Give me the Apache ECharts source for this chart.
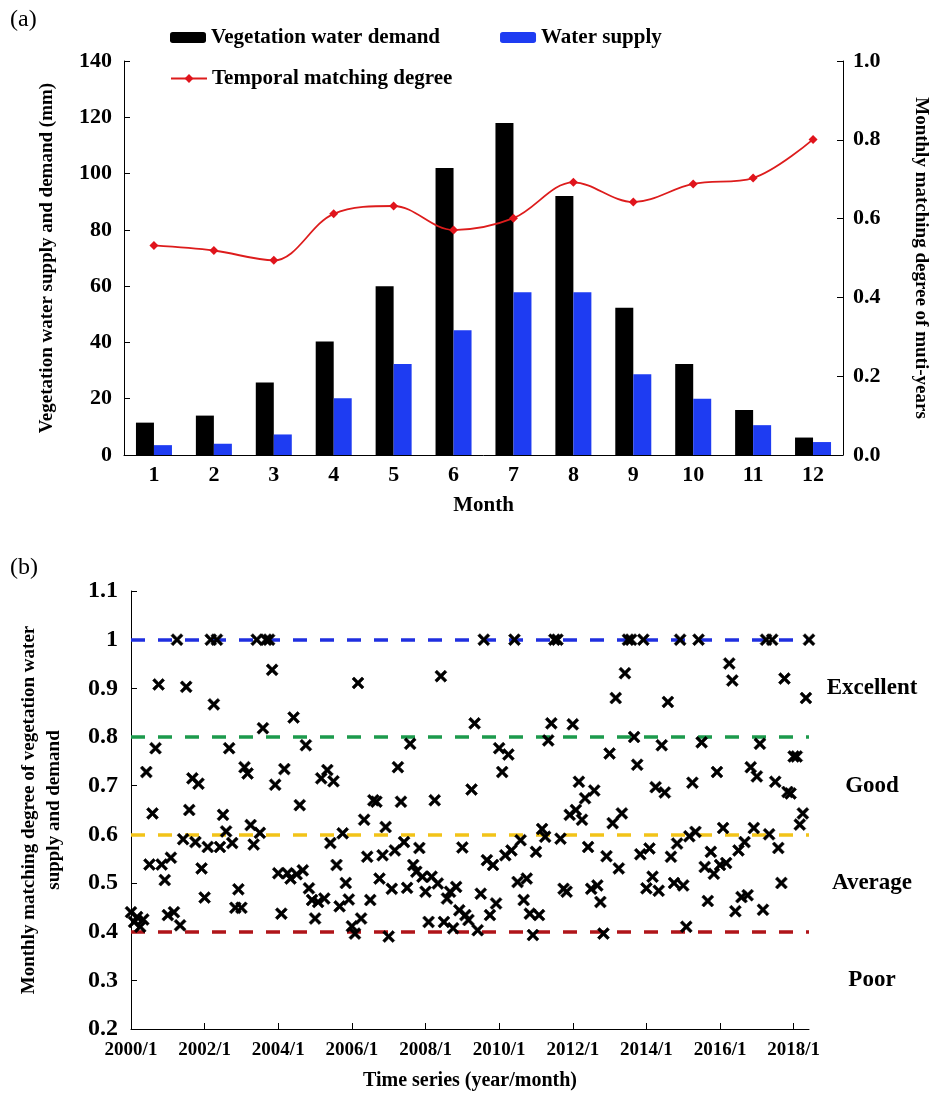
<!DOCTYPE html>
<html>
<head>
<meta charset="utf-8">
<script src="https://cdn.jsdelivr.net/npm/echarts@6/dist/echarts.min.js"></script>
<style>
  html, body { margin: 0; padding: 0; background: #ffffff; }
  #chart { width: 942px; height: 1105px; }
</style>
</head>
<body>
<div id="chart"></div>
<script>
// ---- Panel (a): monthly water demand / supply and matching degree ----
const monthCategories = ['1', '2', '3', '4', '5', '6', '7', '8', '9', '10', '11', '12'];
const waterDemand = [11.5, 14, 25.8, 40.3, 60, 102, 118, 92, 52.3, 32.3, 16, 6.2];
const waterSupply = [3.5, 4, 7.3, 20.2, 32.3, 44.3, 57.8, 57.8, 28.7, 20, 10.6, 4.6];
const matchingDegree = [0.532, 0.519, 0.494, 0.612, 0.632, 0.571, 0.601, 0.692, 0.642, 0.688, 0.703, 0.801];

// ---- Panel (b): monthly matching degree, 2000/1 onwards ----
const startYear = 2000;
const matchValues = [
  0.44, 0.42, 0.43, 0.41, 0.425, 0.728, 0.538, 0.643, 0.777, 0.908, 0.538, 0.506,
  0.434, 0.552, 0.44, 1.0, 0.413, 0.59, 0.903, 0.65, 0.715, 0.584, 0.704, 0.53,
  0.47, 0.574, 1.0, 0.867, 1.0, 0.574, 0.64, 0.606, 0.777, 0.582, 0.449, 0.487,
  0.449, 0.738, 0.725, 0.619, 0.579, 1.0, 0.603, 0.818, 1.0, 1.0, 0.938, 0.702,
  0.52, 0.437, 0.734, 0.52, 0.509, 0.84, 0.518, 0.66, 0.526, 0.783, 0.489, 0.465,
  0.427, 0.461, 0.715, 0.468, 0.732, 0.582, 0.709, 0.537, 0.452, 0.602, 0.5, 0.466,
  0.411, 0.396, 0.911, 0.427, 0.63, 0.554, 0.465, 0.67, 0.667, 0.509, 0.557, 0.615,
  0.39, 0.488, 0.567, 0.738, 0.667, 0.584, 0.49, 0.786, 0.537, 0.523, 0.572, 0.513,
  0.482, 0.42, 0.513, 0.67, 0.499, 0.925, 0.42, 0.468, 0.482, 0.407, 0.492, 0.444,
  0.573, 0.434, 0.424, 0.692, 0.828, 0.403, 0.478, 1.0, 0.547, 0.434, 0.537, 0.458,
  0.777, 0.728, 0.557, 0.764, 0.567, 1.0, 0.502, 0.588, 0.465, 0.509, 0.437, 0.393,
  0.564, 0.434, 0.611, 0.595, 0.793, 0.828, 1.0, 1.0, 0.591, 0.488, 0.482, 0.64,
  0.826, 0.65, 0.708, 0.63, 0.674, 0.574, 0.488, 0.69, 0.495, 0.461, 0.396, 0.555,
  0.766, 0.623, 0.88, 0.53, 0.643, 0.931, 1.0, 1.0, 0.8, 0.743, 0.559, 1.0,
  0.489, 0.571, 0.513, 0.697, 0.484, 0.783, 0.686, 0.872, 0.554, 0.5, 0.581, 1.0,
  0.495, 0.41, 0.596, 0.706, 0.605, 1.0, 0.789, 0.533, 0.463, 0.564, 0.519, 0.728,
  0.537, 0.613, 0.541, 0.951, 0.916, 0.442, 0.567, 0.471, 0.584, 0.475, 0.738, 0.613,
  0.719, 0.786, 0.445, 1.0, 0.6, 1.0, 0.708, 0.572, 0.5, 0.92, 0.687, 0.684,
  0.76, 0.76, 0.62, 0.643, 0.88, 1.0
];
const yearTickLabels = ['2000/1', '2002/1', '2004/1', '2006/1', '2008/1',
                        '2010/1', '2012/1', '2014/1', '2016/1', '2018/1'];
const gradeThresholds = [1.0, 0.8, 0.6, 0.4];
const gradeNames = ['Excellent', 'Good', 'Average', 'Poor'];
const gradeCentres = [0.9, 0.7, 0.5, 0.3];

// line colours for the grade thresholds
const thresholdColors = ['#1f2fe0', '#1c9a4c', '#f2c318', '#b01419'];

const FONT = '"Liberation Serif", "Times New Roman", serif';
const boldText = (size) => ({ fontFamily: FONT, fontWeight: 'bold', fontSize: size, color: '#000' });

// month labels "YYYY/M" for every value of the monthly series
const monthLabels = matchValues.map((_, i) => (startYear + Math.floor(i / 12)) + '/' + (i % 12 + 1));
const isYearTick = (idx, val) => yearTickLabels.indexOf(val) >= 0;

// X-shaped marker
const crossSymbol = 'path://M1.7,0L5,3.3L8.3,0L10,1.7L6.7,5L10,8.3L8.3,10L5,6.7L1.7,10L0,8.3L3.3,5L0,1.7Z';

const axisLineStyle = { show: true, lineStyle: { color: '#000', width: 1 } };

const chart = echarts.init(document.getElementById('chart'), null, { renderer: 'canvas' });

const option = {
  animation: false,
  backgroundColor: '#ffffff',
  legend: [
    {
      data: ['Vegetation water demand', 'Water supply'],
      left: 165, top: 22,
      itemWidth: 36, itemHeight: 11, itemGap: 60,
      textStyle: boldText(21),
      selectedMode: false
    },
    {
      data: ['Temporal matching degree'],
      left: 165, top: 63,
      itemWidth: 36, itemHeight: 11,
      textStyle: boldText(21),
      selectedMode: false
    }
  ],
  grid: [
    { left: 124, right: 99, top: 61, bottom: 650 },
    { left: 131, right: 133, top: 591, bottom: 76 }
  ],
  xAxis: [
    {
      gridIndex: 0, type: 'category', data: monthCategories,
      name: 'Month', nameLocation: 'middle', nameGap: 40,
      nameTextStyle: boldText(21),
      axisLine: axisLineStyle, axisTick: { show: false },
      axisLabel: Object.assign({ margin: 9 }, boldText(22))
    },
    {
      gridIndex: 1, type: 'category', data: monthLabels, boundaryGap: false,
      name: 'Time series (year/month)', nameLocation: 'middle', nameGap: 42,
      nameTextStyle: boldText(20),
      axisLine: axisLineStyle,
      axisTick: { show: true, inside: true, length: 6, interval: isYearTick, lineStyle: { color: '#000' } },
      axisLabel: Object.assign({ margin: 12, interval: isYearTick }, boldText(19)),
      splitLine: { show: false }
    }
  ],
  yAxis: [
    {
      gridIndex: 0, type: 'value', min: 0, max: 140, interval: 20,
      name: 'Vegetation water supply and demand (mm)', nameLocation: 'middle', nameGap: 67,
      nameTextStyle: boldText(19),
      axisLine: axisLineStyle,
      axisTick: { show: true, inside: true, length: 6, lineStyle: { color: '#000' } },
      axisLabel: Object.assign({ margin: 12 }, boldText(22)),
      splitLine: { show: false }
    },
    {
      gridIndex: 0, type: 'value', min: 0, max: 1, interval: 0.2, position: 'right',
      name: 'Monthly matching degree of muti-years', nameLocation: 'middle', nameGap: 68, nameRotate: -90,
      nameTextStyle: boldText(19),
      axisLine: axisLineStyle,
      axisTick: { show: true, inside: true, length: 6, lineStyle: { color: '#000' } },
      axisLabel: Object.assign({ margin: 10, formatter: (v) => v.toFixed(1) }, boldText(22)),
      splitLine: { show: false }
    },
    {
      gridIndex: 1, type: 'value', min: 0.2, max: 1.1, interval: 0.1,
      name: 'Monthly matching degree of vegetation water\nsupply and demand',
      nameLocation: 'middle', nameGap: 64,
      nameTextStyle: Object.assign({ lineHeight: 25 }, boldText(19)),
      axisLine: axisLineStyle,
      axisTick: { show: true, inside: true, length: 6, lineStyle: { color: '#000' } },
      axisLabel: Object.assign({ margin: 13, formatter: (v) => String(+v.toFixed(1)) }, boldText(24)),
      splitLine: { show: false }
    }
  ],
  series: [
    {
      name: 'Vegetation water demand', type: 'bar', xAxisIndex: 0, yAxisIndex: 0,
      data: waterDemand, barWidth: 18, barGap: '0%',
      itemStyle: { color: '#000000' }
    },
    {
      name: 'Water supply', type: 'bar', xAxisIndex: 0, yAxisIndex: 0,
      data: waterSupply, barWidth: 18, barGap: '0%',
      itemStyle: { color: '#1e3cf2' }
    },
    {
      name: 'Temporal matching degree', type: 'line', xAxisIndex: 0, yAxisIndex: 1,
      data: matchingDegree, smooth: 0.35,
      symbol: 'diamond', symbolSize: 9,
      lineStyle: { color: '#dd1c1c', width: 1.8 },
      itemStyle: { color: '#e0141c' },
      z: 4
    },
    {
      name: 'Monthly matching degree', type: 'scatter', xAxisIndex: 1, yAxisIndex: 2,
      data: matchValues,
      symbol: crossSymbol, symbolSize: 12, symbolKeepAspect: true,
      itemStyle: { color: '#000000', borderColor: '#000000', borderWidth: 0.6, opacity: 1 },
      z: 6,
      markLine: {
        silent: true, symbol: ['none', 'none'], z: 2,
        label: { show: false },
        data: gradeThresholds.map((v, i) => ({
          yAxis: v,
          lineStyle: { color: thresholdColors[i], type: [14, 13], width: 3.5 }
        }))
      }
    }
  ]
};

chart.setOption(option);

// panel tags and grade names placed beside the lower plot
const gradeGraphics = gradeNames.map((name, i) => ({
  type: 'text',
  x: 872,
  y: chart.convertToPixel({ yAxisIndex: 2 }, gradeCentres[i]),
  style: {
    text: name, textAlign: 'center', textVerticalAlign: 'middle',
    font: 'bold 23px ' + FONT, fill: '#000'
  }
}));

chart.setOption({
  graphic: [
    { type: 'text', left: 10, top: 8, style: { text: '(a)', font: '24px ' + FONT, fill: '#000' } },
    { type: 'text', left: 10, top: 556, style: { text: '(b)', font: '24px ' + FONT, fill: '#000' } }
  ].concat(gradeGraphics)
});
</script>
</body>
</html>
